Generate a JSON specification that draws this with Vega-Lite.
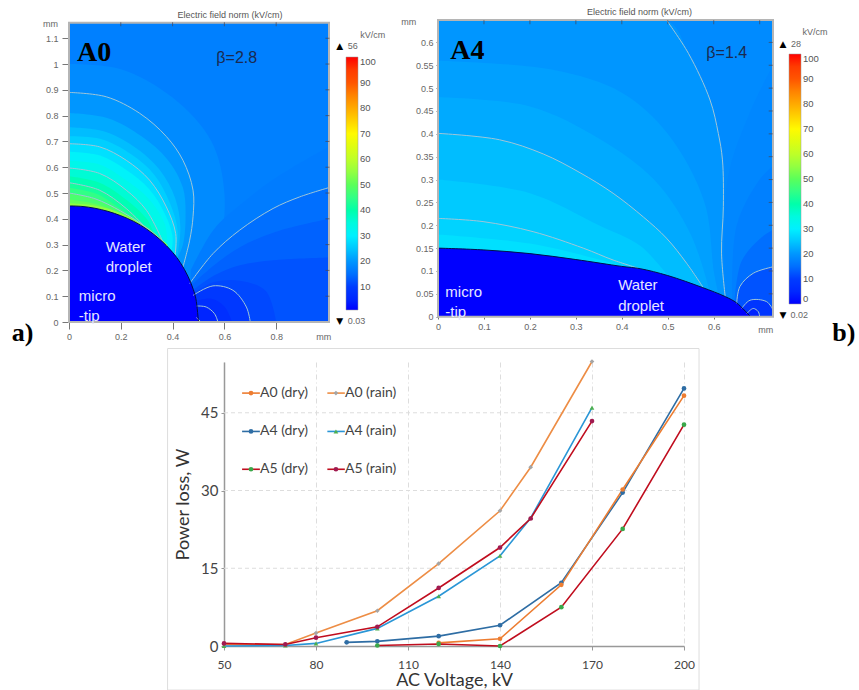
{"$schema":"https://vega.github.io/schema/vega-lite/v6.json","padding":{"left":11,"top":8,"right":0,"bottom":0},"background":"white","config":{"view":{"stroke":null}},"columns":2,"align":"none","bounds":"flush","spacing":{"row":40,"column":109},"resolve":{"scale":{"color":"independent"},"legend":{"color":"independent"}},"datasets":{
"fa":[{"E":17,"x":0,"y":1.16},{"E":17,"x":1.004,"y":1.16},
{"E":18.5,"x":0,"y":1.0},{"E":18.5,"x":0.2,"y":0.98},{"E":18.5,"x":0.4,"y":0.87},{"E":18.5,"x":0.55,"y":0.7},{"E":18.5,"x":0.6,"y":0.5},{"E":18.5,"x":0.58,"y":0.3},{"E":18.5,"x":0.5,"y":0.15},
{"E":20,"x":0,"y":0.89},{"E":20,"x":0.144,"y":0.873},{"E":20,"x":0.273,"y":0.809},{"E":20,"x":0.376,"y":0.719},{"E":20,"x":0.44,"y":0.627},{"E":20,"x":0.479,"y":0.511},{"E":20,"x":0.479,"y":0.408},{"E":20,"x":0.466,"y":0.317},{"E":20,"x":0.44,"y":0.213},
{"E":22,"x":0,"y":0.81},{"E":22,"x":0.15,"y":0.79},{"E":22,"x":0.28,"y":0.72},{"E":22,"x":0.38,"y":0.63},{"E":22,"x":0.44,"y":0.52},{"E":22,"x":0.45,"y":0.4},{"E":22,"x":0.44,"y":0.3},{"E":22,"x":0.42,"y":0.25},
{"E":24,"x":0,"y":0.755},{"E":24,"x":0.13,"y":0.74},{"E":24,"x":0.25,"y":0.68},{"E":24,"x":0.35,"y":0.59},{"E":24,"x":0.41,"y":0.48},{"E":24,"x":0.43,"y":0.37},{"E":24,"x":0.42,"y":0.26},
{"E":26,"x":0,"y":0.72},{"E":26,"x":0.12,"y":0.71},{"E":26,"x":0.24,"y":0.65},{"E":26,"x":0.33,"y":0.57},{"E":26,"x":0.39,"y":0.46},{"E":26,"x":0.42,"y":0.35},{"E":26,"x":0.41,"y":0.26},
{"E":28,"x":0,"y":0.691},{"E":28,"x":0.118,"y":0.679},{"E":28,"x":0.221,"y":0.627},{"E":28,"x":0.311,"y":0.55},{"E":28,"x":0.376,"y":0.446},{"E":28,"x":0.412,"y":0.343},{"E":28,"x":0.41,"y":0.26},
{"E":31,"x":0,"y":0.66},{"E":31,"x":0.12,"y":0.645},{"E":31,"x":0.22,"y":0.59},{"E":31,"x":0.31,"y":0.515},{"E":31,"x":0.37,"y":0.42},{"E":31,"x":0.4,"y":0.33},{"E":31,"x":0.395,"y":0.27},
{"E":33.5,"x":0,"y":0.625},{"E":33.5,"x":0.12,"y":0.61},{"E":33.5,"x":0.22,"y":0.55},{"E":33.5,"x":0.31,"y":0.475},{"E":33.5,"x":0.37,"y":0.38},{"E":33.5,"x":0.38,"y":0.3},
{"E":36,"x":0,"y":0.597},{"E":36,"x":0.118,"y":0.576},{"E":36,"x":0.221,"y":0.511},{"E":36,"x":0.299,"y":0.433},{"E":36,"x":0.363,"y":0.31},
{"E":39,"x":0,"y":0.565},{"E":39,"x":0.118,"y":0.54},{"E":39,"x":0.22,"y":0.475},{"E":39,"x":0.3,"y":0.4},{"E":39,"x":0.33,"y":0.34},
{"E":42,"x":0,"y":0.54},{"E":42,"x":0.118,"y":0.511},{"E":42,"x":0.221,"y":0.44},{"E":42,"x":0.299,"y":0.362},
{"E":45,"x":0,"y":0.52},{"E":45,"x":0.11,"y":0.495},{"E":45,"x":0.21,"y":0.43},{"E":45,"x":0.3,"y":0.36},
{"E":48,"x":0,"y":0.5},{"E":48,"x":0.1,"y":0.478},{"E":48,"x":0.2,"y":0.43},{"E":48,"x":0.3,"y":0.365},{"E":48,"x":0.36,"y":0.315},
{"E":51,"x":0,"y":0.475},{"E":51,"x":0.1,"y":0.458},{"E":51,"x":0.2,"y":0.42},{"E":51,"x":0.3,"y":0.365},{"E":51,"x":0.36,"y":0.31},
{"E":55,"x":0,"y":0.46},{"E":55,"x":0.1,"y":0.451},{"E":55,"x":0.2,"y":0.422},{"E":55,"x":0.3,"y":0.367},{"E":55,"x":0.38,"y":0.3},
{"E":16.5,"x":0.47,"y":0.2},{"E":16.5,"x":0.56,"y":0.36},{"E":16.5,"x":0.68,"y":0.47},{"E":16.5,"x":0.8,"y":0.56},{"E":16.5,"x":1.004,"y":0.68},
{"E":15,"x":0.466,"y":0.149},{"E":15,"x":0.556,"y":0.265},{"E":15,"x":0.659,"y":0.356},{"E":15,"x":0.788,"y":0.44},{"E":15,"x":0.891,"y":0.485},{"E":15,"x":1.004,"y":0.521},
{"E":13.5,"x":0.47,"y":0.14},{"E":13.5,"x":0.56,"y":0.22},{"E":13.5,"x":0.66,"y":0.29},{"E":13.5,"x":0.8,"y":0.35},{"E":13.5,"x":1.004,"y":0.4},
{"E":12,"x":0.475,"y":0.12},{"E":12,"x":0.56,"y":0.18},{"E":12,"x":0.66,"y":0.22},{"E":12,"x":0.8,"y":0.24},{"E":12,"x":1.004,"y":0.25},
{"E":11,"x":0.478,"y":0.11},{"E":11,"x":0.56,"y":0.155},{"E":11,"x":0.66,"y":0.16},{"E":11,"x":0.76,"y":0.12},{"E":11,"x":0.8,"y":0},
{"E":9,"x":0.479,"y":0.103},{"E":9,"x":0.556,"y":0.14},{"E":9,"x":0.633,"y":0.123},{"E":9,"x":0.685,"y":0.058},{"E":9,"x":0.7,"y":0},
{"E":7,"x":0.485,"y":0.08},{"E":7,"x":0.55,"y":0.09},{"E":7,"x":0.6,"y":0.06},{"E":7,"x":0.63,"y":0},
{"E":5,"x":0.492,"y":0.062},{"E":5,"x":0.53,"y":0.058},{"E":5,"x":0.562,"y":0.032},{"E":5,"x":0.575,"y":0},
{"E":2,"x":0.492,"y":0.017},{"E":2,"x":0.51,"y":0},
{"E":1,"x":0,"y":0.45},{"E":1,"x":0.05,"y":0.448},{"E":1,"x":0.1,"y":0.441},{"E":1,"x":0.15,"y":0.429},{"E":1,"x":0.2,"y":0.412},{"E":1,"x":0.25,"y":0.39},{"E":1,"x":0.3,"y":0.36},{"E":1,"x":0.35,"y":0.321},{"E":1,"x":0.4,"y":0.27},{"E":1,"x":0.43,"y":0.23},{"E":1,"x":0.46,"y":0.176},{"E":1,"x":0.48,"y":0.126},{"E":1,"x":0.49,"y":0.09},{"E":1,"x":0.5,"y":0}],
"ca":[{"c":"1","x":0,"y":0.89},{"c":"1","x":0.144,"y":0.873},{"c":"1","x":0.273,"y":0.809},{"c":"1","x":0.376,"y":0.719},{"c":"1","x":0.44,"y":0.627},{"c":"1","x":0.479,"y":0.511},{"c":"1","x":0.479,"y":0.408},{"c":"1","x":0.466,"y":0.317},{"c":"1","x":0.44,"y":0.213},
{"c":"2","x":0,"y":0.691},{"c":"2","x":0.118,"y":0.679},{"c":"2","x":0.221,"y":0.627},{"c":"2","x":0.311,"y":0.55},{"c":"2","x":0.376,"y":0.446},{"c":"2","x":0.412,"y":0.343},{"c":"2","x":0.41,"y":0.26},
{"c":"3","x":0,"y":0.597},{"c":"3","x":0.118,"y":0.576},{"c":"3","x":0.221,"y":0.511},{"c":"3","x":0.299,"y":0.433},{"c":"3","x":0.363,"y":0.31},
{"c":"4","x":0,"y":0.54},{"c":"4","x":0.118,"y":0.511},{"c":"4","x":0.221,"y":0.44},{"c":"4","x":0.299,"y":0.362},
{"c":"5","x":0,"y":0.5},{"c":"5","x":0.1,"y":0.478},{"c":"5","x":0.2,"y":0.43},{"c":"5","x":0.3,"y":0.365},{"c":"5","x":0.36,"y":0.315},
{"c":"6","x":0.466,"y":0.149},{"c":"6","x":0.556,"y":0.265},{"c":"6","x":0.659,"y":0.356},{"c":"6","x":0.788,"y":0.44},{"c":"6","x":0.891,"y":0.485},{"c":"6","x":1.004,"y":0.521},
{"c":"7","x":0.479,"y":0.103},{"c":"7","x":0.556,"y":0.14},{"c":"7","x":0.633,"y":0.123},{"c":"7","x":0.685,"y":0.058},{"c":"7","x":0.7,"y":0},
{"c":"8","x":0.492,"y":0.062},{"c":"8","x":0.53,"y":0.058},{"c":"8","x":0.562,"y":0.032},{"c":"8","x":0.575,"y":0},
{"c":"9","x":0.492,"y":0.017},{"c":"9","x":0.51,"y":0}],
"ea":[{"x":0,"y":0.45},{"x":0.05,"y":0.448},{"x":0.1,"y":0.441},{"x":0.15,"y":0.429},{"x":0.2,"y":0.412},{"x":0.25,"y":0.39},{"x":0.3,"y":0.36},{"x":0.35,"y":0.321},{"x":0.4,"y":0.27},{"x":0.43,"y":0.23},{"x":0.46,"y":0.176},{"x":0.48,"y":0.126},{"x":0.49,"y":0.09},{"x":0.5,"y":0}],
"fb":[{"E":18.5,"x":0,"y":0.649},{"E":18.5,"x":0.729,"y":0.649},
{"E":20,"x":0,"y":0.649},{"E":20,"x":0.497,"y":0.649},{"E":20,"x":0.545,"y":0.576},{"E":20,"x":0.592,"y":0.474},{"E":20,"x":0.61,"y":0.401},{"E":20,"x":0.619,"y":0.343},{"E":20,"x":0.621,"y":0.241},{"E":20,"x":0.617,"y":0.139},{"E":20,"x":0.625,"y":0.044},
{"E":21,"x":0,"y":0.56},{"E":21,"x":0.25,"y":0.54},{"E":21,"x":0.4,"y":0.49},{"E":21,"x":0.5,"y":0.4},{"E":21,"x":0.58,"y":0.25},{"E":21,"x":0.6,"y":0.1},{"E":21,"x":0.61,"y":0.05},
{"E":22,"x":0,"y":0.48},{"E":22,"x":0.2,"y":0.46},{"E":22,"x":0.35,"y":0.39},{"E":22,"x":0.47,"y":0.3},{"E":22,"x":0.55,"y":0.18},{"E":22,"x":0.59,"y":0.06},
{"E":24,"x":0,"y":0.401},{"E":24,"x":0.134,"y":0.387},{"E":24,"x":0.229,"y":0.356},{"E":24,"x":0.309,"y":0.315},{"E":24,"x":0.381,"y":0.27},{"E":24,"x":0.447,"y":0.218},{"E":24,"x":0.497,"y":0.172},{"E":24,"x":0.541,"y":0.117},{"E":24,"x":0.577,"y":0.064},
{"E":25.5,"x":0,"y":0.3},{"E":25.5,"x":0.2,"y":0.27},{"E":25.5,"x":0.35,"y":0.2},{"E":25.5,"x":0.44,"y":0.155},{"E":25.5,"x":0.5,"y":0.09},
{"E":26.5,"x":0,"y":0.215},{"E":26.5,"x":0.098,"y":0.208},{"E":26.5,"x":0.207,"y":0.186},{"E":26.5,"x":0.316,"y":0.15},{"E":26.5,"x":0.381,"y":0.124},{"E":26.5,"x":0.436,"y":0.106},
{"E":28,"x":0,"y":0.18},{"E":28,"x":0.2,"y":0.16},{"E":28,"x":0.35,"y":0.125},{"E":28,"x":0.4,"y":0.11},
{"E":18,"x":0.625,"y":0.044},{"E":18,"x":0.63,"y":0.3},{"E":18,"x":0.68,"y":0.45},{"E":18,"x":0.729,"y":0.55},
{"E":17,"x":0.64,"y":0.03},{"E":17,"x":0.65,"y":0.2},{"E":17,"x":0.7,"y":0.3},{"E":17,"x":0.729,"y":0.33},
{"E":15,"x":0.645,"y":0.03},{"E":15,"x":0.66,"y":0.12},{"E":15,"x":0.7,"y":0.17},{"E":15,"x":0.729,"y":0.19},
{"E":12,"x":0.65,"y":0.029},{"E":12,"x":0.657,"y":0.066},{"E":12,"x":0.686,"y":0.095},{"E":12,"x":0.729,"y":0.109},
{"E":8,"x":0.661,"y":0.018},{"E":8,"x":0.679,"y":0.036},{"E":8,"x":0.715,"y":0.033},{"E":8,"x":0.729,"y":0.015},
{"E":4,"x":0.672,"y":0.007},{"E":4,"x":0.686,"y":0.018},{"E":4,"x":0.697,"y":0.011},{"E":4,"x":0.7,"y":0},
{"E":0.02,"x":0,"y":0.15},{"E":0.02,"x":0.1,"y":0.146},{"E":0.02,"x":0.2,"y":0.138},{"E":0.02,"x":0.3,"y":0.125},{"E":0.02,"x":0.4,"y":0.11},{"E":0.02,"x":0.44,"y":0.105},{"E":0.02,"x":0.5,"y":0.09},{"E":0.02,"x":0.575,"y":0.064},{"E":0.02,"x":0.625,"y":0.044},{"E":0.02,"x":0.65,"y":0.03},{"E":0.02,"x":0.68,"y":0}],
"cb":[{"c":"1","x":0,"y":0.401},{"c":"1","x":0.134,"y":0.387},{"c":"1","x":0.229,"y":0.356},{"c":"1","x":0.309,"y":0.315},{"c":"1","x":0.381,"y":0.27},{"c":"1","x":0.447,"y":0.218},{"c":"1","x":0.497,"y":0.172},{"c":"1","x":0.541,"y":0.117},{"c":"1","x":0.577,"y":0.064},
{"c":"2","x":0,"y":0.215},{"c":"2","x":0.098,"y":0.208},{"c":"2","x":0.207,"y":0.186},{"c":"2","x":0.316,"y":0.15},{"c":"2","x":0.381,"y":0.124},{"c":"2","x":0.436,"y":0.106},
{"c":"3","x":0.497,"y":0.649},{"c":"3","x":0.545,"y":0.576},{"c":"3","x":0.592,"y":0.474},{"c":"3","x":0.61,"y":0.401},{"c":"3","x":0.619,"y":0.343},{"c":"3","x":0.621,"y":0.241},{"c":"3","x":0.617,"y":0.139},{"c":"3","x":0.625,"y":0.044},
{"c":"4","x":0.65,"y":0.029},{"c":"4","x":0.657,"y":0.066},{"c":"4","x":0.686,"y":0.095},{"c":"4","x":0.729,"y":0.109},
{"c":"5","x":0.661,"y":0.018},{"c":"5","x":0.679,"y":0.036},{"c":"5","x":0.715,"y":0.033},{"c":"5","x":0.729,"y":0.015},
{"c":"6","x":0.672,"y":0.007},{"c":"6","x":0.686,"y":0.018},{"c":"6","x":0.697,"y":0.011},{"c":"6","x":0.7,"y":0}],
"eb":[{"x":0,"y":0.15},{"x":0.1,"y":0.146},{"x":0.2,"y":0.138},{"x":0.3,"y":0.125},{"x":0.4,"y":0.11},{"x":0.44,"y":0.105},{"x":0.5,"y":0.09},{"x":0.575,"y":0.064},{"x":0.625,"y":0.044},{"x":0.65,"y":0.03},{"x":0.68,"y":0}],
"pl":[{"s":"A0 (rain)","v":50,"p":0.3},{"s":"A0 (rain)","v":70,"p":0.3},{"s":"A0 (rain)","v":80,"p":2.5},{"s":"A0 (rain)","v":100,"p":6.8},{"s":"A0 (rain)","v":120,"p":15.9},{"s":"A0 (rain)","v":140,"p":26.1},{"s":"A0 (rain)","v":150,"p":34.5},{"s":"A0 (rain)","v":170,"p":54.9},
{"s":"A4 (rain)","v":50,"p":0},{"s":"A4 (rain)","v":70,"p":0.1},{"s":"A4 (rain)","v":80,"p":0.5},{"s":"A4 (rain)","v":100,"p":3.4},{"s":"A4 (rain)","v":120,"p":9.6},{"s":"A4 (rain)","v":140,"p":17.4},{"s":"A4 (rain)","v":150,"p":24.7},{"s":"A4 (rain)","v":170,"p":46},
{"s":"A5 (rain)","v":50,"p":0.5},{"s":"A5 (rain)","v":70,"p":0.3},{"s":"A5 (rain)","v":80,"p":1.6},{"s":"A5 (rain)","v":100,"p":3.7},{"s":"A5 (rain)","v":120,"p":11.2},{"s":"A5 (rain)","v":140,"p":19},{"s":"A5 (rain)","v":150,"p":24.6},{"s":"A5 (rain)","v":170,"p":43.4},
{"s":"A4 (dry)","v":90,"p":0.7},{"s":"A4 (dry)","v":100,"p":0.9},{"s":"A4 (dry)","v":120,"p":1.9},{"s":"A4 (dry)","v":140,"p":4},{"s":"A4 (dry)","v":160,"p":12.2},{"s":"A4 (dry)","v":180,"p":29.6},{"s":"A4 (dry)","v":200,"p":49.7},
{"s":"A0 (dry)","v":120,"p":0.6},{"s":"A0 (dry)","v":140,"p":1.4},{"s":"A0 (dry)","v":160,"p":11.8},{"s":"A0 (dry)","v":180,"p":30.2},{"s":"A0 (dry)","v":200,"p":48.3},
{"s":"A5 (dry)","v":100,"p":0.1},{"s":"A5 (dry)","v":120,"p":0.4},{"s":"A5 (dry)","v":140,"p":0},{"s":"A5 (dry)","v":160,"p":7.5},{"s":"A5 (dry)","v":180,"p":22.6},{"s":"A5 (dry)","v":200,"p":42.7}],
"lg":[{"s":"A0 (dry)","v":55.9,"p":48.8},{"s":"A0 (dry)","v":58.8,"p":48.8,"m":1,"t":"A0 (dry)"},{"s":"A0 (dry)","v":61.7,"p":48.8},
{"s":"A0 (rain)","v":83.7,"p":48.8},{"s":"A0 (rain)","v":86.5,"p":48.8,"m":1,"t":"A0 (rain)"},{"s":"A0 (rain)","v":89.4,"p":48.8},
{"s":"A4 (dry)","v":55.9,"p":41.4},{"s":"A4 (dry)","v":58.8,"p":41.4,"m":1,"t":"A4 (dry)"},{"s":"A4 (dry)","v":61.7,"p":41.4},
{"s":"A4 (rain)","v":83.7,"p":41.4},{"s":"A4 (rain)","v":86.5,"p":41.4,"m":1,"t":"A4 (rain)"},{"s":"A4 (rain)","v":89.4,"p":41.4},
{"s":"A5 (dry)","v":55.9,"p":34.1},{"s":"A5 (dry)","v":58.8,"p":34.1,"m":1,"t":"A5 (dry)"},{"s":"A5 (dry)","v":61.7,"p":34.1},
{"s":"A5 (rain)","v":83.7,"p":34.1},{"s":"A5 (rain)","v":86.5,"p":34.1,"m":1,"t":"A5 (rain)"},{"s":"A5 (rain)","v":89.4,"p":34.1}],
"gy":[{"x":50,"x2":200,"y":15},{"x":50,"x2":200,"y":30},{"x":50,"x2":200,"y":45}]
},
"concat":[
{"width":260,"height":302,"title":{"text":"Electric field norm (kV/cm)","fontSize":9,"fontWeight":"normal","color":"#555","font":"Liberation Sans","dx":31,"offset":0},
"layer":[
{"data":{"name":"fa"},"mark":{"type":"area","stroke":null,"interpolate":"catmull-rom","clip":true},"encoding":{"x":{"field":"x","type":"quantitative","scale":{"domain":[0,1.004],"nice":false,"zero":false},"axis":{"title":null,"values":[0,0.2,0.4,0.6,0.8],"format":".1~f","grid":false,"domain":false,"tickColor":"#777","tickSize":7,"labelColor":"#666","labelFontSize":9,"labelFont":"Liberation Sans","labelPadding":3,"labelOverlap":false,"labelFlush":false,"tickCount":20}},"y":{"field":"y","type":"quantitative","stack":null,"scale":{"domain":[0,1.1707],"nice":false,"zero":false},"axis":{"title":null,"values":[0,0.1,0.2,0.3,0.4,0.5,0.6,0.7,0.8,0.9,1,1.1],"format":".1~f","grid":false,"domain":false,"tickColor":"#777","tickSize":7,"labelColor":"#666","labelFontSize":9,"labelFont":"Liberation Sans","labelPadding":4,"labelOverlap":false,"labelFlush":false,"tickCount":20}},"y2":{"datum":0},"detail":{"field":"E"},"order":{"value":null},"color":{"field":"E","type":"quantitative","scale":{"domain":[1,10,20,30,40,50,60,70,80,90,100],"range":["#0000ff","#003cff","#0096ff","#00f0ff","#00ffaa","#5aff5a","#beff28","#fffa00","#ffaa00","#ff5500","#ff0000"]},"legend":{"orient":"none","legendX":277,"legendY":37,"title":null,"padding":0,"gradientLength":253,"gradientThickness":12,"values":[10,20,30,40,50,60,70,80,90,100],"labelFontSize":9.5,"labelColor":"#555","labelFont":"Liberation Sans","gradientStrokeColor":"#999","gradientStrokeWidth":0.5}}}},
{"data":{"name":"ca"},"mark":{"type":"line","color":"#9fc6d8","strokeWidth":1,"interpolate":"catmull-rom","clip":true},"encoding":{"x":{"field":"x","type":"quantitative"},"y":{"field":"y","type":"quantitative"},"detail":{"field":"c"},"order":{"value":null}}},
{"data":{"name":"ea"},"mark":{"type":"line","color":"#00104a","strokeWidth":1,"interpolate":"catmull-rom"},"encoding":{"x":{"field":"x","type":"quantitative"},"y":{"field":"y","type":"quantitative"},"order":{"value":null}}},
{"data":{"values":[{"x":0,"x2":1.004,"y":0,"y2":1.16}]},"mark":{"type":"rect","fill":null,"stroke":"#b5b5b5","strokeWidth":2},"encoding":{"x":{"field":"x","type":"quantitative"},"x2":{"field":"x2"},"y":{"field":"y","type":"quantitative"},"y2":{"field":"y2"}}},
{"data":{"values":[{"x":0.998,"y":0.1},{"x":0.998,"y":0.2},{"x":0.998,"y":0.3},{"x":0.998,"y":0.4},{"x":0.998,"y":0.5},{"x":0.998,"y":0.6},{"x":0.998,"y":0.7},{"x":0.998,"y":0.8},{"x":0.998,"y":0.9},{"x":0.998,"y":1},{"x":0.998,"y":1.1}]},"mark":{"type":"tick","orient":"horizontal","size":4,"thickness":1,"color":"#445"},"encoding":{"x":{"field":"x","type":"quantitative"},"y":{"field":"y","type":"quantitative"}}},
{"data":{"values":[{"x":0.2,"y":1.154},{"x":0.4,"y":1.154},{"x":0.6,"y":1.154},{"x":0.8,"y":1.154}]},"mark":{"type":"tick","orient":"vertical","size":4,"thickness":1,"color":"#445"},"encoding":{"x":{"field":"x","type":"quantitative"},"y":{"field":"y","type":"quantitative"}}},
{"data":{"values":[{"x":0.031,"y":1.044,"t":"A0"}]},"mark":{"type":"text","align":"left","font":"Liberation Serif","fontWeight":"bold","fontSize":28,"color":"#000"},"encoding":{"x":{"field":"x","type":"quantitative"},"y":{"field":"y","type":"quantitative"},"text":{"field":"t"}}},
{"data":{"values":[{"x":-0.179,"y":-0.043,"t":"a)"}]},"mark":{"type":"text","font":"Liberation Serif","fontWeight":"bold","fontSize":26,"color":"#000"},"encoding":{"x":{"field":"x","type":"quantitative"},"y":{"field":"y","type":"quantitative"},"text":{"field":"t"}}},
{"data":{"values":[{"x":0.569,"y":1.022,"t":"β=2.8"}]},"mark":{"type":"text","align":"left","font":"Liberation Sans","fontSize":16,"color":"#1a2a50"},"encoding":{"x":{"field":"x","type":"quantitative"},"y":{"field":"y","type":"quantitative"},"text":{"field":"t"}}},
{"data":{"values":[{"x":0.142,"y":0.291,"t":"Water"},{"x":0.142,"y":0.213,"t":"droplet"},{"x":0.038,"y":0.101,"t":"micro"},{"x":0.038,"y":0.022,"t":"-tip"}]},"mark":{"type":"text","align":"left","font":"Liberation Sans","fontSize":15,"color":"#e6e6ff"},"encoding":{"x":{"field":"x","type":"quantitative"},"y":{"field":"y","type":"quantitative"},"text":{"field":"t"}}},
{"data":{"values":[{"x":1.045,"y":1.068,"t":"▲"},{"x":1.045,"y":0.003,"t":"▼"}]},"mark":{"type":"text","font":"DejaVu Sans","fontSize":9,"color":"#000"},"encoding":{"x":{"field":"x","type":"quantitative"},"y":{"field":"y","type":"quantitative"},"text":{"field":"t"}}},
{"data":{"values":[{"x":1.076,"y":1.068,"t":"56"},{"x":1.076,"y":0.003,"t":"0.03"},{"x":1.125,"y":1.112,"t":"kV/cm"},{"x":-0.1,"y":1.156,"t":"mm"},{"x":0.955,"y":-0.058,"t":"mm"}]},"mark":{"type":"text","align":"left","font":"Liberation Sans","fontSize":9,"color":"#666"},"encoding":{"x":{"field":"x","type":"quantitative"},"y":{"field":"y","type":"quantitative"},"text":{"field":"t"}}}
]},
{"width":335,"height":302,"title":{"text":"Electric field norm (kV/cm)","fontSize":9,"fontWeight":"normal","color":"#555","font":"Liberation Sans","dx":34,"offset":1},
"layer":[
{"data":{"name":"fb"},"mark":{"type":"area","stroke":null,"interpolate":"catmull-rom","clip":true},"encoding":{"x":{"field":"x","type":"quantitative","scale":{"domain":[0,0.729],"nice":false,"zero":false},"axis":{"title":null,"values":[0,0.1,0.2,0.3,0.4,0.5,0.6],"format":".1~f","grid":false,"domain":false,"tickColor":"#777","tickSize":2,"labelColor":"#666","labelFontSize":9,"labelFont":"Liberation Sans","labelPadding":3,"offset":-5,"labelOverlap":false,"labelFlush":false,"tickCount":20}},"y":{"field":"y","type":"quantitative","stack":null,"scale":{"domain":[-0.0116,0.649],"nice":false,"zero":false},"axis":{"title":null,"values":[0,0.05,0.1,0.15,0.2,0.25,0.3,0.35,0.4,0.45,0.5,0.55,0.6],"format":".2~f","grid":false,"domain":false,"tickColor":"#777","tickSize":2,"labelColor":"#666","labelFontSize":9,"labelFont":"Liberation Sans","labelPadding":3,"labelOverlap":false,"labelFlush":false,"tickCount":20}},"y2":{"datum":0},"detail":{"field":"E"},"order":{"value":null},"color":{"field":"E","type":"quantitative","scale":{"domain":[0.02,10,20,30,40,50,60,70,80,90,100],"range":["#0000ff","#003cff","#0096ff","#00f0ff","#00ffaa","#5aff5a","#beff28","#fffa00","#ffaa00","#ff5500","#ff0000"]},"legend":{"orient":"none","legendX":351,"legendY":34,"title":null,"padding":0,"gradientLength":250,"gradientThickness":12,"values":[0.02,10,20,30,40,50,60,70,80,90,100],"labelExpr":"datum.value<1?'0':datum.label","labelFontSize":9.5,"labelColor":"#555","labelFont":"Liberation Sans","gradientStrokeColor":"#999","gradientStrokeWidth":0.5}}}},
{"data":{"name":"cb"},"mark":{"type":"line","color":"#9fc6d8","strokeWidth":1,"interpolate":"catmull-rom","clip":true},"encoding":{"x":{"field":"x","type":"quantitative"},"y":{"field":"y","type":"quantitative"},"detail":{"field":"c"},"order":{"value":null}}},
{"data":{"name":"eb"},"mark":{"type":"line","color":"#00104a","strokeWidth":1,"interpolate":"catmull-rom"},"encoding":{"x":{"field":"x","type":"quantitative"},"y":{"field":"y","type":"quantitative"},"order":{"value":null}}},
{"data":{"values":[{"x":0,"x2":0.729,"y":0,"y2":0.649}]},"mark":{"type":"rect","fill":null,"stroke":"#b5b5b5","strokeWidth":2},"encoding":{"x":{"field":"x","type":"quantitative"},"x2":{"field":"x2"},"y":{"field":"y","type":"quantitative"},"y2":{"field":"y2"}}},
{"data":{"values":[{"x":0.724,"y":0.05},{"x":0.724,"y":0.1},{"x":0.724,"y":0.15},{"x":0.724,"y":0.2},{"x":0.724,"y":0.25},{"x":0.724,"y":0.3},{"x":0.724,"y":0.35},{"x":0.724,"y":0.4},{"x":0.724,"y":0.45},{"x":0.724,"y":0.5},{"x":0.724,"y":0.55},{"x":0.724,"y":0.6}]},"mark":{"type":"tick","orient":"horizontal","size":4,"thickness":1,"color":"#445"},"encoding":{"x":{"field":"x","type":"quantitative"},"y":{"field":"y","type":"quantitative"}}},
{"data":{"values":[{"x":0.1,"y":0.644},{"x":0.2,"y":0.644},{"x":0.3,"y":0.644},{"x":0.4,"y":0.644},{"x":0.5,"y":0.644},{"x":0.6,"y":0.644},{"x":0.7,"y":0.644}]},"mark":{"type":"tick","orient":"vertical","size":4,"thickness":1,"color":"#445"},"encoding":{"x":{"field":"x","type":"quantitative"},"y":{"field":"y","type":"quantitative"}}},
{"data":{"values":[{"x":0.0266,"y":0.582,"t":"A4"}]},"mark":{"type":"text","align":"left","font":"Liberation Serif","fontWeight":"bold","fontSize":28,"color":"#000"},"encoding":{"x":{"field":"x","type":"quantitative"},"y":{"field":"y","type":"quantitative"},"text":{"field":"t"}}},
{"data":{"values":[{"x":0.883,"y":-0.036,"t":"b)"}]},"mark":{"type":"text","font":"Liberation Serif","fontWeight":"bold","fontSize":26,"color":"#000"},"encoding":{"x":{"field":"x","type":"quantitative"},"y":{"field":"y","type":"quantitative"},"text":{"field":"t"}}},
{"data":{"values":[{"x":0.584,"y":0.576,"t":"β=1.4"}]},"mark":{"type":"text","align":"left","font":"Liberation Sans","fontSize":16,"color":"#1a2a50"},"encoding":{"x":{"field":"x","type":"quantitative"},"y":{"field":"y","type":"quantitative"},"text":{"field":"t"}}},
{"data":{"values":[{"x":0.392,"y":0.069,"t":"Water"},{"x":0.392,"y":0.024,"t":"droplet"},{"x":0.016,"y":0.055,"t":"micro"},{"x":0.016,"y":0.011,"t":"-tip"}]},"mark":{"type":"text","align":"left","font":"Liberation Sans","fontSize":15,"color":"#e6e6ff"},"encoding":{"x":{"field":"x","type":"quantitative"},"y":{"field":"y","type":"quantitative"},"text":{"field":"t"}}},
{"data":{"values":[{"x":0.7505,"y":0.597,"t":"▲"},{"x":0.7505,"y":0.004,"t":"▼"}]},"mark":{"type":"text","font":"DejaVu Sans","fontSize":9,"color":"#000"},"encoding":{"x":{"field":"x","type":"quantitative"},"y":{"field":"y","type":"quantitative"},"text":{"field":"t"}}},
{"data":{"values":[{"x":0.768,"y":0.597,"t":"28"},{"x":0.767,"y":0.004,"t":"0.02"},{"x":0.793,"y":0.623,"t":"kV/cm"},{"x":-0.08,"y":0.644,"t":"mm"},{"x":0.697,"y":-0.03,"t":"mm"}]},"mark":{"type":"text","align":"left","font":"Liberation Sans","fontSize":9,"color":"#666"},"encoding":{"x":{"field":"x","type":"quantitative"},"y":{"field":"y","type":"quantitative"},"text":{"field":"t"}}}
]},
{"width":260,"height":284,"layer":[
{"data":{"values":[{"x":31.6,"x2":204.9,"y":57.4,"y2":-8.5}]},"mark":{"type":"rect","fill":null,"stroke":"#dddddd","strokeWidth":1},"encoding":{"x":{"field":"x","type":"quantitative","scale":{"domain":[50,200],"range":[155,615],"nice":false,"zero":false},"axis":{"title":"AC Voltage, kV","values":[50,80,110,140,170,200],"titleFontSize":18,"titleFont":"Lato","titleFontWeight":"normal","titleColor":"#333","titlePadding":1,"labelFontSize":12,"labelFont":"Lato","labelColor":"#444","labelPadding":9,"tickColor":"#999","tickSize":4,"domainColor":"#999","domainWidth":1.5,"grid":true,"gridColor":"#dddddd","gridDash":[5,3,1,3],"labelOverlap":false,"labelFlush":false}},"x2":{"field":"x2"},"y":{"field":"y","type":"quantitative","scale":{"domain":[0,54.8],"nice":false,"zero":false},"axis":{"title":"Power loss, W","values":[0,15,30,45],"offset":-155,"titleFontSize":18,"titleFont":"Lato","titleFontWeight":"normal","titleColor":"#333","titlePadding":8,"labelFontSize":15,"labelFont":"Lato","labelColor":"#444","labelPadding":3,"tickColor":"#999","tickSize":3,"domainColor":"#999","domainWidth":1.5,"grid":false,"labelFlush":false}},"y2":{"field":"y2"}}},
{"data":{"name":"gy"},"mark":{"type":"rule","stroke":"#dddddd","strokeDash":[4,3]},"encoding":{"x":{"field":"x","type":"quantitative"},"x2":{"field":"x2"},"y":{"field":"y","type":"quantitative"}}},
{"data":{"name":"pl"},"mark":{"type":"line","strokeWidth":1.6,"clip":false},"encoding":{"x":{"field":"v","type":"quantitative"},"y":{"field":"p","type":"quantitative"},"stroke":{"field":"s","type":"nominal","legend":null,"scale":{"domain":["A0 (dry)","A0 (rain)","A4 (dry)","A4 (rain)","A5 (dry)","A5 (rain)"],"range":["#ed7d31","#ed8d45","#2e6da4","#2a96d6","#c00d1e","#c00d1e"]}},"order":{"value":null}}},
{"data":{"name":"pl"},"mark":{"type":"point","filled":true,"size":22,"opacity":1},"encoding":{"x":{"field":"v","type":"quantitative"},"y":{"field":"p","type":"quantitative"},"fill":{"field":"s","type":"nominal","legend":null,"scale":{"domain":["A0 (dry)","A0 (rain)","A4 (dry)","A4 (rain)","A5 (dry)","A5 (rain)"],"range":["#ed7d31","#a5a5a5","#2e6da4","#4caf50","#3aa84a","#a01a50"]}},"shape":{"field":"s","type":"nominal","legend":null,"scale":{"domain":["A0 (dry)","A0 (rain)","A4 (dry)","A4 (rain)","A5 (dry)","A5 (rain)"],"range":["circle","diamond","circle","triangle-up","circle","circle"]}}}},
{"data":{"name":"lg"},"mark":{"type":"line","strokeWidth":1.6},"encoding":{"x":{"field":"v","type":"quantitative"},"y":{"field":"p","type":"quantitative"},"stroke":{"field":"s","type":"nominal","legend":null},"order":{"value":null}}},
{"data":{"name":"lg"},"transform":[{"filter":"datum.m"}],"mark":{"type":"point","filled":true,"size":22,"opacity":1},"encoding":{"x":{"field":"v","type":"quantitative"},"y":{"field":"p","type":"quantitative"},"fill":{"field":"s","type":"nominal","legend":null},"shape":{"field":"s","type":"nominal","legend":null}}},
{"data":{"name":"lg"},"transform":[{"filter":"datum.m"}],"mark":{"type":"text","align":"left","dx":9,"font":"Lato","fontSize":14,"color":"#444"},"encoding":{"x":{"field":"v","type":"quantitative"},"y":{"field":"p","type":"quantitative"},"text":{"field":"t"}}}
]}
]}
